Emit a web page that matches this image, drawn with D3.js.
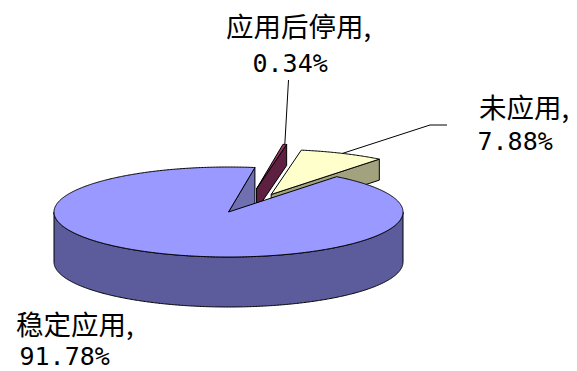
<!DOCTYPE html>
<html>
<head>
<meta charset="utf-8">
<script src="https://cdn.jsdelivr.net/npm/d3@7"></script>
<style>
  html, body { margin: 0; padding: 0; background: #ffffff; }
  svg { display: block; }
</style>
</head>
<body>
<svg id="chart" width="577" height="371"></svg>
<script>
// ---- data ----
const categories = ["稳定应用", "应用后停用", "未应用"];
const values = [91.78, 0.34, 7.88];
const explode = [0, 0.54, 0.46];         // pull-out distance as a fraction of the radius

// ---- style ----
const topColors  = ["#9999FF", "#993366", "#FFFFCC"];
const wallColors = ["#5C5C9C", "#5E2040", "#A2A27E"];
const cutColors  = ["#6F6FB2", "#5E2040", "#A2A27E"];
const cjkFont = "'Noto Sans CJK SC', 'Noto Sans', sans-serif";
const numFont = "'DejaVu Sans Mono', 'Liberation Mono', monospace";

// ---- layout ----
const W = 577, H = 371;
const cx = 228.5, cy = 212, rx = 174.5, ry = 45;   // top ellipse
const depthMain = 50, depthOut = 21;               // slab thickness (px)
const startDeg = 38.3;
const explodeSkewDeg = 8;                          // pulled slices drift slightly clockwise
// label blocks: name line origin, value line origin, optional leader end points
const labelLayout = [
  { nx: 16,  ny: 335, vx: 19.5,  vy: 365, leader: null },
  { nx: 226, ny: 37,  vx: 252.5, vy: 72,  leader: [[288.5, 80]] },
  { nx: 479, ny: 118, vx: 477.5, vy: 150, leader: [[430, 125], [447, 125]] }
];

const svg = d3.select("#chart");

// ground plane (unit circle) -> screen
const sx = d3.scaleLinear().domain([-1, 1]).range([cx - rx, cx + rx]);
const sy = d3.scaleLinear().domain([-1, 1]).range([cy - ry, cy + ry]);

const a0 = startDeg * Math.PI / 180;
const skew = explodeSkewDeg * Math.PI / 180;
const pie = d3.pie().sort(null).value(d => d).startAngle(a0).endAngle(a0 + 2 * Math.PI);
const arcs = pie(values).map((d, i) => {
  const mid = (d.startAngle + d.endAngle) / 2;
  const dir = mid + skew;
  return {
    ...d, i, mid,
    ox: explode[i] * Math.sin(dir),
    oy: -explode[i] * Math.cos(dir),
    depth: explode[i] > 0 ? depthOut : depthMain
  };
});

// screen point of a slice at angle a, radius r, dropped by z pixels
function pt(s, a, r, z) {
  return [sx(s.ox + r * Math.sin(a)), sy(s.oy - r * Math.cos(a)) + z];
}
function arcPts(s, a1, a2, z) {
  const n = Math.max(2, Math.ceil(Math.abs(a2 - a1) / (Math.PI / 360)));
  return d3.range(n + 1).map(k => pt(s, a1 + (a2 - a1) * k / n, 1, z));
}
const line = d3.line();
const poly = p => line(p) + "Z";

function edgeStyle(sel, fill) {
  return sel.attr("fill", fill).attr("stroke", "#000").attr("stroke-width", 1)
            .attr("stroke-linejoin", "round");
}

// back slices first, the main body last
const order = arcs.slice().sort((p, q) => p.oy - q.oy);
const g = svg.append("g");

order.forEach(s => {
  const z = s.depth;
  // radial cut faces that face the viewer
  const cutFace = a => poly([pt(s, a, 0, 0), pt(s, a, 1, 0), pt(s, a, 1, z), pt(s, a, 0, z)]);
  if (Math.sin(s.startAngle) < 0)
    edgeStyle(g.append("path").attr("d", cutFace(s.startAngle)), cutColors[s.i]);
  if (Math.sin(s.endAngle) > 0)
    edgeStyle(g.append("path").attr("d", cutFace(s.endAngle)), cutColors[s.i]);

  // front outer wall
  [Math.PI / 2, Math.PI / 2 + 2 * Math.PI].forEach(f0 => {
    const lo = Math.max(s.startAngle, f0), hi = Math.min(s.endAngle, f0 + Math.PI);
    if (hi > lo) {
      const p = arcPts(s, lo, hi, 0).concat(arcPts(s, hi, lo, z));
      edgeStyle(g.append("path").attr("d", poly(p)), wallColors[s.i]);
    }
  });

  // top face
  const topP = [pt(s, 0, 0, 0)].concat(arcPts(s, s.startAngle, s.endAngle, 0));
  edgeStyle(g.append("path").attr("d", poly(topP)), topColors[s.i]);
});

// leader lines
arcs.forEach(s => {
  const L = labelLayout[s.i].leader;
  if (!L) return;
  const p = [pt(s, s.mid, 1, 0)].concat(L);
  svg.append("path").attr("d", d3.line()(p))
     .attr("fill", "none").attr("stroke", "#000").attr("stroke-width", 1);
});

// labels
arcs.forEach(s => {
  const L = labelLayout[s.i];
  svg.append("text").attr("x", L.nx).attr("y", L.ny)
     .attr("font-family", cjkFont).attr("font-size", 27.5).attr("fill", "#000")
     .text(categories[s.i] + ",");
  svg.append("text").attr("x", L.vx).attr("y", L.vy)
     .attr("font-family", numFont).attr("font-size", 25).attr("fill", "#000")
     .text(values[s.i].toFixed(2) + "%");
});
</script>
</body>
</html>
